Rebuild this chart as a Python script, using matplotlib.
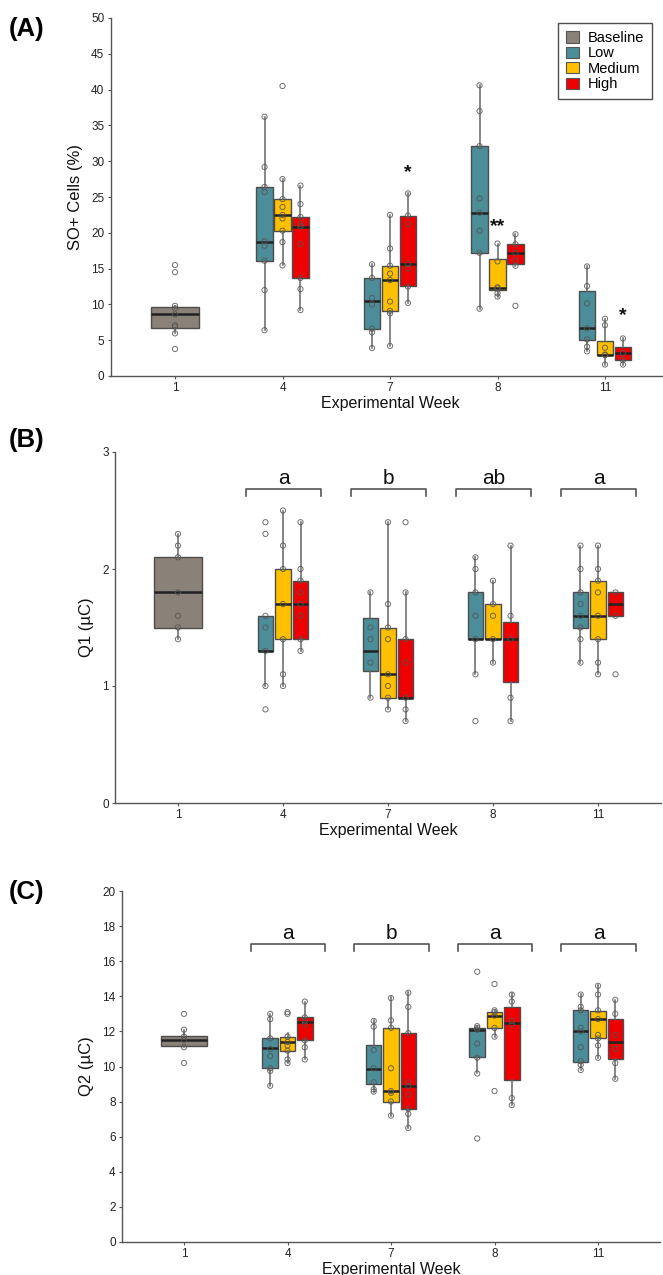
import matplotlib
matplotlib.use("Agg")
import matplotlib.pyplot as plt
from matplotlib.patches import Patch

plt.rcParams['font.family'] = ['Liberation Sans Narrow', 'Liberation Sans', 'DejaVu Sans']

weeks = ['1', '4', '7', '8', '11']
groups = ['Baseline', 'Low', 'Medium', 'High']
colors = ['#8a8178', '#4b8d99', '#ffc000', '#ee0000']

# Box order: Baseline (week 1), then Low/Medium/High for weeks 4, 7, 8, 11
# ---------------- Panel A: SO+ cells (%) ----------------
A_q1 = [6.66, 16.06, 20.3, 13.73, 6.6, 9.1, 12.6, 17.2, 12.0, 15.7, 5.03, 2.9, 2.23]
A_med = [8.6, 18.76, 22.5, 20.86, 10.47, 13.4, 15.7, 22.8, 12.25, 17.2, 6.66, 3.0, 3.17]
A_q3 = [9.7, 26.4, 24.7, 22.25, 13.73, 15.4, 22.4, 32.1, 16.3, 18.4, 11.87, 4.9, 4.0]
A_lo = [5.95, 6.42, 15.45, 9.2, 3.9, 4.2, 10.2, 9.4, 11.1, 15.4, 3.44, 1.6, 1.6]
A_hi = [9.8, 36.2, 27.5, 26.6, 15.6, 22.5, 25.5, 40.6, 18.5, 19.8, 15.3, 8.0, 5.25]
A_pts = [
    [15.5, 14.5, 9.8, 9.45, 8.6, 7.1, 6.9, 5.95, 3.77],
    [36.2, 29.2, 26.4, 25.7, 18.8, 18.2, 16.1, 12.0, 6.4],
    [40.5, 27.5, 24.7, 23.6, 22.5, 22.0, 20.3, 18.7, 15.45],
    [26.6, 24.0, 22.2, 21.2, 20.9, 18.4, 13.7, 12.15, 9.2],
    [15.6, 13.7, 10.9, 10.0, 6.6, 6.1, 3.9],
    [22.5, 17.8, 15.4, 14.3, 13.4, 10.4, 9.1, 8.75, 4.2],
    [25.5, 22.4, 21.2, 15.7, 15.0, 12.5, 10.2],
    [40.6, 37.0, 32.1, 24.8, 22.8, 20.3, 17.2, 9.4],
    [18.5, 16.0, 12.4, 12.25, 11.55, 11.1],
    [19.8, 18.4, 17.2, 16.1, 15.4, 9.8],
    [15.3, 12.57, 10.15, 6.66, 5.1, 4.1, 3.44],
    [8.0, 7.1, 3.95, 3.0, 2.9, 1.6],
    [5.25, 3.2, 2.23, 1.6],
]
A_star_text = ['*', '**', '*']
A_star_week = [2, 3, 4]
A_star_group = [3, 2, 3]
A_star_y = [28.4, 20.9, 8.4]

# ---------------- Panel B: Q1 (uC) ----------------
B_q1 = [1.5, 1.3, 1.4, 1.4, 1.13, 0.9, 0.9, 1.4, 1.4, 1.03, 1.5, 1.4, 1.6]
B_med = [1.8, 1.3, 1.7, 1.7, 1.3, 1.1, 0.9, 1.4, 1.4, 1.4, 1.6, 1.6, 1.7]
B_q3 = [2.1, 1.6, 2.0, 1.9, 1.58, 1.5, 1.4, 1.8, 1.7, 1.55, 1.8, 1.9, 1.8]
B_lo = [1.4, 1.0, 1.0, 1.3, 0.9, 0.8, 0.7, 1.1, 1.2, 0.7, 1.2, 1.1, 1.6]
B_hi = [2.3, 1.6, 2.5, 2.4, 1.8, 2.4, 1.8, 2.1, 1.9, 2.2, 2.2, 2.2, 1.8]
B_pts = [
    [2.3, 2.2, 2.1, 1.8, 1.6, 1.5, 1.4],
    [2.4, 2.3, 1.6, 1.5, 1.3, 1.0, 0.8],
    [2.5, 2.2, 2.0, 1.7, 1.4, 1.1, 1.0],
    [2.4, 2.0, 1.9, 1.8, 1.7, 1.6, 1.4, 1.3],
    [1.8, 1.5, 1.4, 1.2, 0.9],
    [2.4, 1.7, 1.5, 1.4, 1.1, 1.0, 0.9, 0.8],
    [2.4, 1.8, 1.4, 1.2, 0.9, 0.8, 0.7],
    [2.1, 2.0, 1.8, 1.6, 1.4, 1.1, 0.7],
    [1.9, 1.7, 1.6, 1.4, 1.2],
    [2.2, 1.6, 1.4, 0.9, 0.7],
    [2.2, 2.0, 1.8, 1.7, 1.6, 1.5, 1.4, 1.2],
    [2.2, 2.0, 1.9, 1.8, 1.6, 1.4, 1.2, 1.1],
    [1.8, 1.6, 1.1],
]
B_letters = ['a', 'b', 'ab', 'a']

# ---------------- Panel C: Q2 (uC) ----------------
C_q1 = [11.17, 9.91, 10.9, 11.5, 8.98, 7.99, 7.58, 10.52, 12.19, 9.23, 10.27, 11.6, 10.41]
C_med = [11.5, 11.03, 11.41, 12.53, 9.86, 8.6, 8.9, 12.08, 12.9, 12.48, 12.04, 12.72, 11.41]
C_q3 = [11.74, 11.6, 11.7, 12.8, 11.22, 12.19, 11.93, 12.21, 13.12, 13.4, 13.2, 13.18, 12.7]
C_lo = [11.1, 8.9, 10.2, 10.4, 8.57, 7.18, 6.48, 9.61, 11.7, 7.8, 9.8, 10.5, 9.29]
C_hi = [12.1, 13.0, 11.9, 13.7, 12.63, 13.94, 14.23, 12.3, 13.2, 14.17, 14.13, 14.64, 13.8]
C_pts = [
    [13.0, 12.1, 11.7, 11.5, 11.1, 10.2],
    [13.0, 12.7, 11.6, 11.0, 10.6, 9.9, 9.75, 8.9],
    [13.1, 13.0, 11.7, 11.4, 11.2, 10.9, 10.4, 10.2],
    [13.7, 12.8, 12.6, 12.4, 11.5, 11.1, 10.4],
    [12.6, 12.27, 10.94, 9.9, 9.1, 8.7, 8.57],
    [13.9, 12.63, 12.2, 9.9, 8.6, 8.5, 8.0, 7.2],
    [14.2, 13.4, 11.9, 9.1, 8.9, 8.4, 7.6, 7.3, 6.5],
    [15.4, 12.3, 12.2, 12.1, 11.3, 10.5, 9.6, 5.9],
    [14.7, 13.2, 13.1, 12.9, 12.2, 11.7, 8.6],
    [14.1, 13.7, 12.6, 12.4, 8.2, 7.8],
    [14.1, 13.4, 13.2, 12.2, 12.0, 11.1, 10.3, 10.1, 9.8],
    [14.6, 14.1, 13.2, 12.7, 11.8, 11.6, 11.2, 10.5],
    [13.8, 13.0, 11.8, 11.0, 10.2, 9.3],
]
C_letters = ['a', 'b', 'a', 'a']

W, H = 663, 1275
fig = plt.figure(figsize=(W / 100, H / 100), dpi=100)

DODGE = 0.167
BW = 0.15
BASE_W = 0.45


def box_layout():
    pos, wid, col = [0.0], [BASE_W], [colors[0]]
    for wi in range(1, 5):
        for gi in range(3):
            pos.append(wi + (gi - 1) * DODGE)
            wid.append(BW)
            col.append(colors[gi + 1])
    return pos, wid, col


def ax_rect(left_px, unit_px, bottom_px, top_px):
    left = (left_px - 0.6 * unit_px) / W
    width = 5.2 * unit_px / W
    bottom = 1 - bottom_px / H
    height = (bottom_px - top_px) / H
    return [left, bottom, width, height]


def draw_panel(ax, q1, med, q3, lo, hi, pts, ylim, yticks, ylabel):
    pos, wid, col = box_layout()
    stats = []
    for i in range(len(q1)):
        stats.append(dict(q1=q1[i], med=med[i], q3=q3[i], whislo=lo[i], whishi=hi[i], fliers=[]))
    bp = ax.bxp(stats, positions=pos, widths=wid, patch_artist=True, showfliers=False,
                showcaps=False,
                boxprops=dict(edgecolor='#4d4d4d', linewidth=1.0),
                medianprops=dict(color='#222222', linewidth=1.8),
                whiskerprops=dict(color='#666666', linewidth=1.1),
                manage_ticks=False)
    for patch, c in zip(bp['boxes'], col):
        patch.set_facecolor(c)
        patch.set_zorder(2)
    for i, p in enumerate(pts):
        ax.scatter([pos[i]] * len(p), p, s=14, facecolors='none', edgecolors='#555555',
                   linewidths=0.7, alpha=0.85, zorder=4)
    ax.set_xlim(-0.6, 4.6)
    ax.set_ylim(*ylim)
    ax.set_yticks(yticks)
    ax.set_xticks(range(5))
    ax.set_xticklabels(weeks)
    for s in ['top', 'right']:
        ax.spines[s].set_visible(False)
    for s in ['left', 'bottom']:
        ax.spines[s].set_color('#555555')
        ax.spines[s].set_linewidth(1.0)
    ax.tick_params(axis='both', labelsize=8.5, colors='#555555', labelcolor='#222222',
                   length=2.5, width=0.8, pad=2)
    ax.set_xlabel('Experimental Week', fontsize=11.5, labelpad=1, color='#111111')
    ax.set_ylabel(ylabel, fontsize=12, labelpad=6, color='#111111')
    return pos


def brackets(ax, letters, ybar, ytip, ytext):
    for k, lab in enumerate(letters):
        c = k + 1
        x0, x1 = c - 0.355, c + 0.365
        ax.plot([x0, x0, x1, x1], [ytip, ybar, ybar, ytip], color='#555555', lw=1.2,
                clip_on=False, zorder=3)
        ax.text((x0 + x1) / 2, ytext, lab, ha='center', va='center', fontsize=15,
                color='#111111')


# Panel A
axA = fig.add_axes(ax_rect(175, 107.5, 376, 18))
posA = draw_panel(axA, A_q1, A_med, A_q3, A_lo, A_hi, A_pts, (0, 50), range(0, 51, 5),
                  'SO+ Cells (%)')
for t, w, g, y in zip(A_star_text, A_star_week, A_star_group, A_star_y):
    x = w + (g - 2) * DODGE
    axA.text(x, y, t, ha='center', va='center', fontsize=14, fontweight='bold', color='#111111')

handles = [Patch(facecolor=c, edgecolor='#555555', linewidth=0.8) for c in colors]
leg = fig.legend(handles, groups, loc='upper left', bbox_to_anchor=(558 / W, 1 - 23 / H),
                 bbox_transform=fig.transFigure, fontsize=10.5, frameon=True, fancybox=False,
                 edgecolor='#222222', handlelength=0.9, handleheight=0.8, labelspacing=0.1,
                 handletextpad=0.6, borderpad=0.55, borderaxespad=0)
leg.get_frame().set_linewidth(1.0)

# Panel B
axB = fig.add_axes(ax_rect(178, 105, 803, 452))
draw_panel(axB, B_q1, B_med, B_q3, B_lo, B_hi, B_pts, (0, 3), [0, 1, 2, 3], 'Q1 (µC)')
brackets(axB, B_letters, 2.68, 2.62, 2.77)

# Panel C
axC = fig.add_axes(ax_rect(184, 103.5, 1242, 891))
draw_panel(axC, C_q1, C_med, C_q3, C_lo, C_hi, C_pts, (0, 20), range(0, 21, 2), 'Q2 (µC)')
brackets(axC, C_letters, 17.0, 16.6, 17.55)

for lab, ypx in [('(A)', 29), ('(B)', 440), ('(C)', 892)]:
    fig.text(9 / W, 1 - ypx / H, lab, fontsize=18.5, fontweight='bold', ha='left', va='center',
             color='#000000', family=['Liberation Sans', 'DejaVu Sans'])

fig.savefig('out.png', dpi=100)
